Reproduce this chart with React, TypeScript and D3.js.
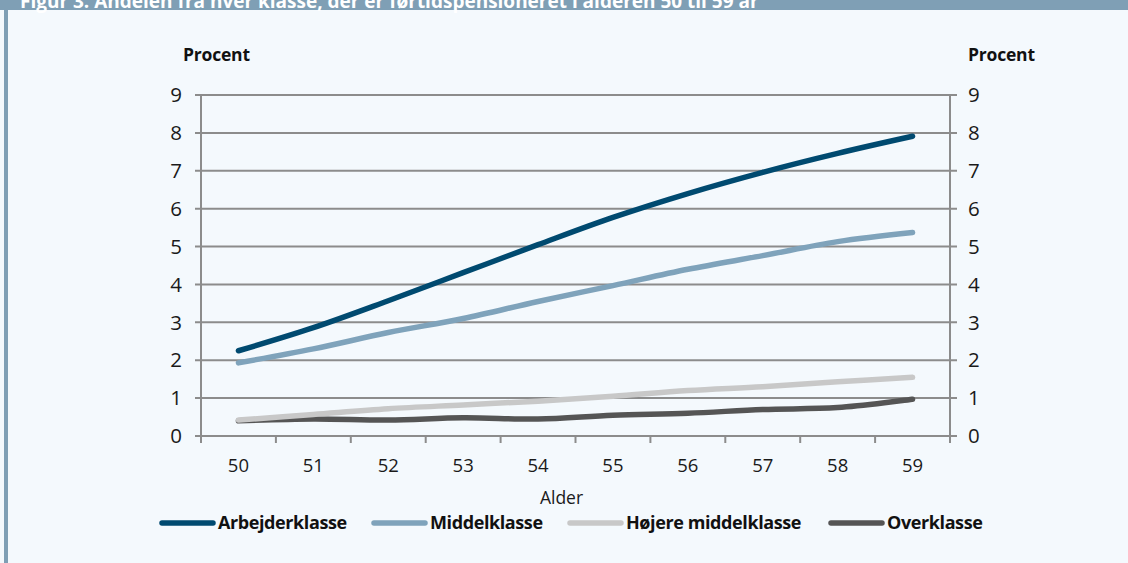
import { useMemo } from "react";
import * as d3 from "d3";

const WIDTH = 1128;
const HEIGHT = 563;
const MARGIN = { top: 95, right: 178, bottom: 127, left: 201 };

const TITLE = "Figur 3. Andelen fra hver klasse, der er førtidspensioneret i alderen 50 til 59 år";
const ages = ["50", "51", "52", "53", "54", "55", "56", "57", "58", "59"];
const yTicks = [0, 1, 2, 3, 4, 5, 6, 7, 8, 9];

const arbejderklasse = [2.25, 2.86, 3.57, 4.31, 5.05, 5.77, 6.4, 6.96, 7.46, 7.91];
const middelklasse = [1.93, 2.3, 2.73, 3.1, 3.55, 3.97, 4.4, 4.76, 5.13, 5.37];
const hoejereMiddelklasse = [0.42, 0.57, 0.72, 0.82, 0.92, 1.05, 1.2, 1.3, 1.43, 1.55];
const overklasse = [0.4, 0.45, 0.42, 0.48, 0.45, 0.55, 0.6, 0.7, 0.75, 0.97];

const seriesNames = ["Arbejderklasse", "Middelklasse", "Højere middelklasse", "Overklasse"];
const seriesColors = ["#004a70", "#7fa3bb", "#c8c8c8", "#555555"];

const FONT = "'Open Sans', 'DejaVu Sans', sans-serif";
const AXIS_COLOR = "#8c8c8c";

const App = () => {
  const boundsWidth = WIDTH - MARGIN.left - MARGIN.right;
  const boundsHeight = HEIGHT - MARGIN.top - MARGIN.bottom;

  const series = useMemo(
    () =>
      [arbejderklasse, middelklasse, hoejereMiddelklasse, overklasse].map((values, i) => ({
        name: seriesNames[i],
        color: seriesColors[i],
        values,
      })),
    []
  );

  const xScale = useMemo(
    () => d3.scaleBand().domain(ages).range([0, boundsWidth]),
    [boundsWidth]
  );
  const yScale = useMemo(
    () => d3.scaleLinear().domain([0, 9]).range([boundsHeight, 0]),
    [boundsHeight]
  );

  const lineGen = d3
    .line<number>()
    .x((_, i) => (xScale(ages[i]) ?? 0) + xScale.bandwidth() / 2)
    .y((d) => yScale(d))
    .curve(d3.curveCatmullRom.alpha(0.5));

  // legend item x positions (line start)
  const legendX = [160, 372, 568, 829];
  const legendY = 523;

  return (
    <div style={{ position: "fixed", left: 0, top: 0 }}>
      <svg width={WIDTH} height={HEIGHT} style={{ display: "block" }}>
        <rect x={0} y={0} width={WIDTH} height={HEIGHT} fill="#f4f9fd" />
        {/* header bar, the title is cut off at the top as in the source */}
        <rect x={0} y={0} width={WIDTH} height={10} fill="#7f9fb5" />
        <text x={20} y={8} fill="#ffffff" fontFamily={FONT} fontWeight="bold" fontSize={19}>
          {TITLE}
        </text>
        <rect x={4} y={10} width={4} height={HEIGHT - 10} fill="#7f9fb5" />

        <g transform={`translate(${MARGIN.left},${MARGIN.top})`}>
          {/* gridlines */}
          {yTicks.map((t) => (
            <line
              key={t}
              x1={-6}
              x2={boundsWidth + 7}
              y1={yScale(t)}
              y2={yScale(t)}
              stroke={AXIS_COLOR}
              strokeWidth={2}
            />
          ))}
          <line x1={0} x2={0} y1={0} y2={boundsHeight} stroke={AXIS_COLOR} strokeWidth={2} />
          <line
            x1={boundsWidth}
            x2={boundsWidth}
            y1={0}
            y2={boundsHeight}
            stroke={AXIS_COLOR}
            strokeWidth={2}
          />
          {/* x ticks at category boundaries */}
          {[...ages.map((a) => xScale(a) ?? 0), boundsWidth].map((x, i) => (
            <line
              key={i}
              x1={x}
              x2={x}
              y1={boundsHeight}
              y2={boundsHeight + 7}
              stroke={AXIS_COLOR}
              strokeWidth={2}
            />
          ))}
          {/* y labels, both sides */}
          {yTicks.map((t) => (
            <g key={t}>
              <text
                x={-19}
                y={yScale(t)}
                dy="0.35em"
                textAnchor="end"
                fontFamily={FONT}
                fontSize={20.5}
                fill="#1a1a1a"
              >
                {t}
              </text>
              <text
                x={boundsWidth + 18}
                y={yScale(t)}
                dy="0.35em"
                fontFamily={FONT}
                fontSize={20.5}
                fill="#1a1a1a"
              >
                {t}
              </text>
            </g>
          ))}
          {/* x labels */}
          {ages.map((a) => (
            <text
              key={a}
              x={(xScale(a) ?? 0) + xScale.bandwidth() / 2}
              y={boundsHeight + 30}
              dy="0.35em"
              textAnchor="middle"
              fontFamily={FONT}
              fontSize={18.5}
              fill="#1a1a1a"
            >
              {a}
            </text>
          ))}
          <text
            x={boundsWidth / 2 - 14}
            y={boundsHeight + 62}
            dy="0.35em"
            textAnchor="middle"
            fontFamily={FONT}
            fontSize={17.5}
            fill="#1a1a1a"
          >
            Alder
          </text>
          <text x={-18} y={-34} fontFamily={FONT} fontWeight="bold" fontSize={17.5} fill="#111" letterSpacing={-0.2}>
            Procent
          </text>
          <text
            x={boundsWidth + 18}
            y={-34}
            fontFamily={FONT}
            fontWeight="bold"
            fontSize={17.5}
            fill="#111"
            letterSpacing={-0.2}
          >
            Procent
          </text>

          {/* lines, drawn bottom-up so the first series is on top */}
          {[...series].reverse().map((s) => (
            <path
              key={s.name}
              d={lineGen(s.values) ?? ""}
              fill="none"
              stroke={s.color}
              strokeWidth={5.5}
              strokeLinecap="round"
              strokeLinejoin="round"
            />
          ))}
        </g>

        {/* legend */}
        {series.map((s, i) => (
          <g key={s.name} transform={`translate(${legendX[i]},${legendY})`}>
            <line x1={2} x2={53} y1={0} y2={0} stroke={s.color} strokeWidth={5.5} strokeLinecap="round" />
            <text
              x={58}
              y={0}
              dy="0.35em"
              fontFamily={FONT}
              fontWeight="bold"
              fontSize={18}
              fill="#111"
              letterSpacing={-0.4}
            >
              {s.name}
            </text>
          </g>
        ))}
      </svg>
    </div>
  );
};

export default App;
